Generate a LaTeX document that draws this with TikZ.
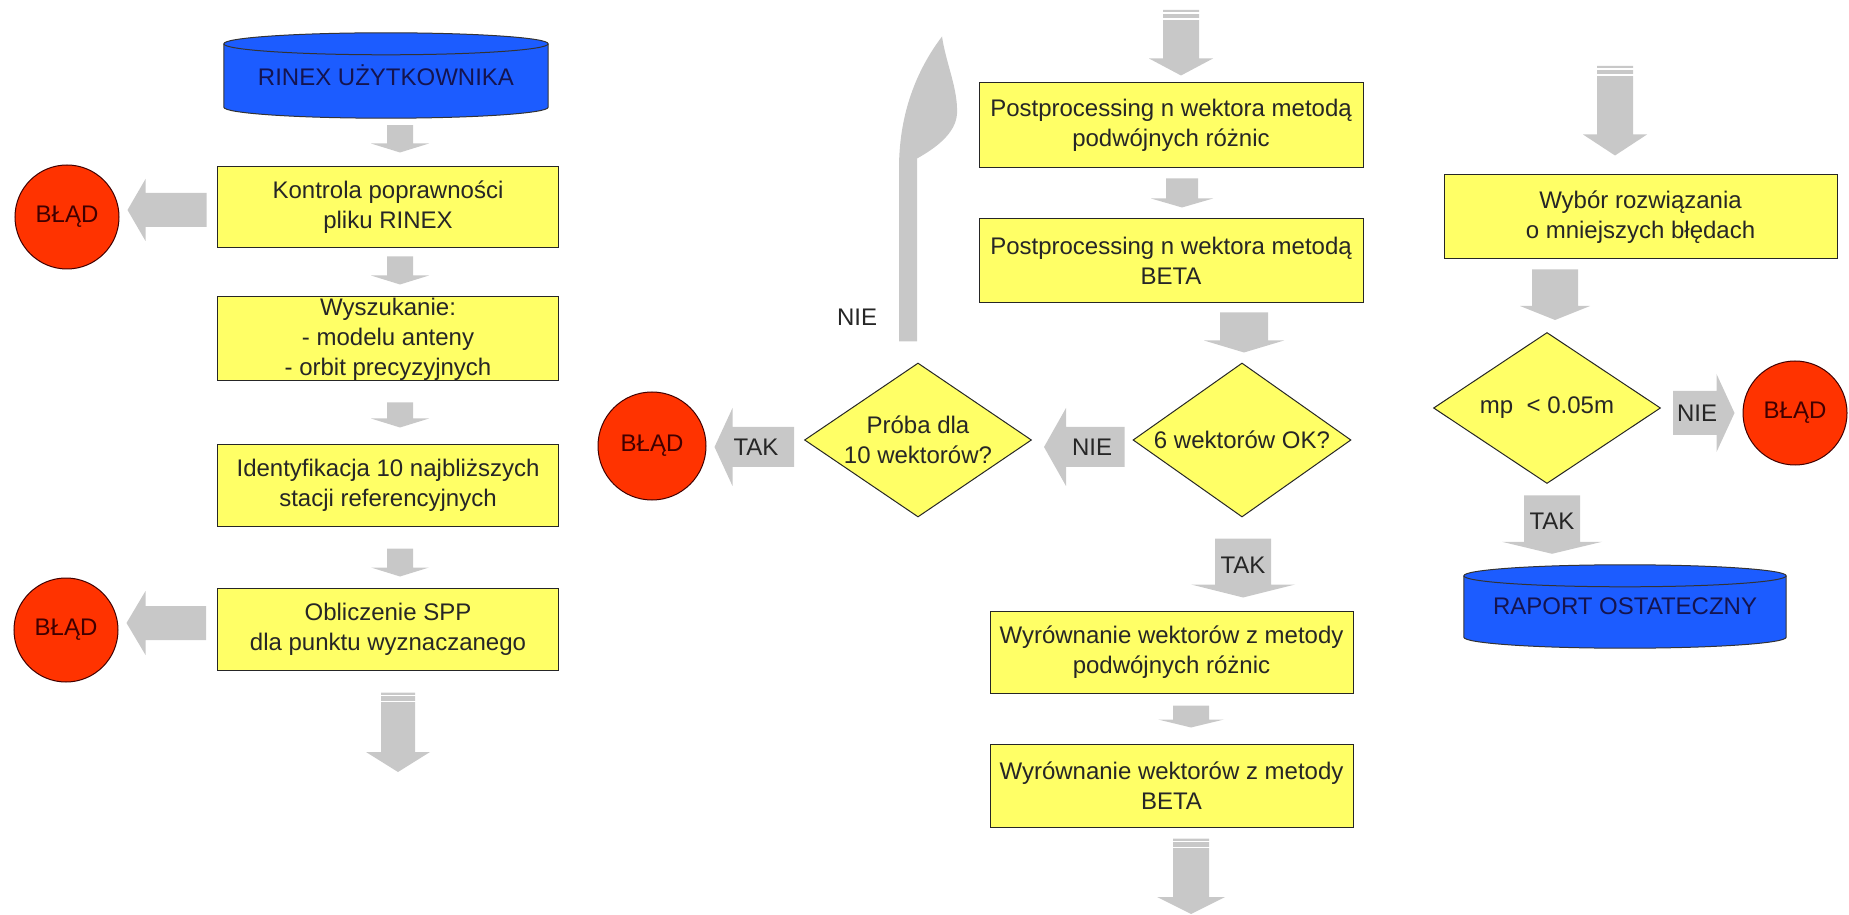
\documentclass[tikz,border=0pt]{standalone}
\usepackage{fontspec}
\setmainfont{Liberation Sans}
\usetikzlibrary{shapes.geometric, calc, backgrounds}

\definecolor{boxyellow}{RGB}{255,255,102}
\definecolor{dbblue}{RGB}{28,92,255}
\definecolor{errred}{RGB}{255,51,0}
\definecolor{arrowgray}{RGB}{200,200,200}
\definecolor{navytext}{RGB}{20,20,80}

\newcommand{\boxfont}{\fontsize{24}{30}\selectfont}

% gray block arrows: #1 tail, #2 tip, #3 shaft half width, #4 head half width, #5 head length
\newcommand{\arrdown}[5]{%
  \fill[garrow] let \p1=#1, \p2=#2 in
    (\x1-#3,\y1) -- (\x1+#3,\y1) -- (\x1+#3,\y2+#5) -- (\x1+#4,\y2+#5)
    -- (\x1,\y2) -- (\x1-#4,\y2+#5) -- (\x1-#3,\y2+#5) -- cycle;}
\newcommand{\arrleft}[5]{%
  \fill[garrow] let \p1=#1, \p2=#2 in
    (\x1,\y1-#3) -- (\x1,\y1+#3) -- (\x2+#5,\y1+#3) -- (\x2+#5,\y1+#4)
    -- (\x2,\y1) -- (\x2+#5,\y1-#4) -- (\x2+#5,\y1-#3) -- cycle;}
\newcommand{\arrright}[5]{%
  \fill[garrow] let \p1=#1, \p2=#2 in
    (\x1,\y1-#3) -- (\x1,\y1+#3) -- (\x2-#5,\y1+#3) -- (\x2-#5,\y1+#4)
    -- (\x2,\y1) -- (\x2-#5,\y1-#4) -- (\x2-#5,\y1-#3) -- cycle;}
% white stripes on top of the long arrows
\newcommand{\stripes}[2]{%
  \draw[white, line width=1.5pt] let \p1=#1 in
    (\x1-#2-1pt,\y1-3pt) -- (\x1+#2+1pt,\y1-3pt)
    (\x1-#2-1pt,\y1-9pt) -- (\x1+#2+1pt,\y1-9pt);}
% cylinder drawn round a text node
\newcommand{\dbshape}[1]{%
  \filldraw[dbbody] let \p1=(#1.north west), \p2=(#1.south east) in
    (\x1,\y1-11pt) -- (\x1,\y2+11pt)
    arc[start angle=180, end angle=360, x radius={(\x2-\x1)/2}, y radius=11pt]
    -- (\x2,\y1-11pt)
    arc[start angle=0, end angle=180, x radius={(\x2-\x1)/2}, y radius=11pt] -- cycle;
  \draw[dbbody, fill=none] let \p1=(#1.north west), \p2=(#1.south east) in
    (\x1,\y1-11pt) arc[start angle=180, end angle=360, x radius={(\x2-\x1)/2}, y radius=11pt];}

\tikzset{
  procbox/.style={rectangle, draw=black!85, line width=1pt, fill=boxyellow,
    inner sep=0pt, align=center, font=\boxfont, text=black!85},
  decision/.style={diamond, shape aspect=1.45, draw=black!85, line width=1pt, fill=boxyellow,
    inner sep=-6pt, align=center, font=\boxfont, text=black!85, minimum height=154pt},
  errnode/.style={circle, draw=black!75!red, line width=1pt, fill=errred,
    inner sep=0pt, minimum size=104pt, font=\boxfont, text=black!75!red},
  dbnode/.style={inner sep=0pt, font=\boxfont, text=navytext},
  dbbody/.style={fill=dbblue, draw=black!80, line width=1pt},
  garrow/.style={fill=arrowgray},
  arrtext/.style={font=\boxfont, text=black!85, inner sep=0pt},
}

\begin{document}
\begin{tikzpicture}[x=1pt, y=1pt]
  \useasboundingbox (0,0) rectangle (1849,914);

  % Kolumna 1
  \node[dbnode, minimum width=324pt, minimum height=85pt] (rinex) at (386,838.5) {RINEX UŻYTKOWNIKA};
  \node[procbox, minimum width=341pt, minimum height=81pt] (kon) at (388,706.5) {Kontrola poprawności\\pliku RINEX};
  \node[procbox, minimum width=341pt, minimum height=84pt] (wys) at (388,575) {Wyszukanie:\\- modelu anteny\\- orbit precyzyjnych};
  \node[procbox, minimum width=341pt, minimum height=81pt] (ide) at (388,428.5) {Identyfikacja 10 najbliższych\\stacji referencyjnych};
  \node[procbox, minimum width=341pt, minimum height=82pt] (obl) at (388,285) {Obliczenie SPP\\dla punktu wyznaczanego};
  \node[errnode] (err1) at (67,697) {BŁĄD};
  \node[errnode] (err2) at (66,284) {BŁĄD};
  \coordinate (endA) at (398,142);

  % Kolumna 2
  \coordinate (startB) at (1181,904);
  \node[procbox, minimum width=384pt, minimum height=85pt] (post1) at (1171,788.5) {Postprocessing n wektora metodą\\podwójnych różnic};
  \node[procbox, minimum width=384pt, minimum height=84pt] (post2) at (1171,653) {Postprocessing n wektora metodą\\BETA};
  \node[decision, minimum width=218pt] (ok6) at (1242,474) {6 wektorów OK?};
  \node[decision, minimum width=227pt] (proba) at (918,474) {Próba dla\\10 wektorów?};
  \node[errnode, minimum size=108pt] (err3) at (652,468) {BŁĄD};
  \node[procbox, minimum width=363pt, minimum height=82pt] (wyr1) at (1171.5,262) {Wyrównanie wektorów z metody\\podwójnych różnic};
  \node[procbox, minimum width=363pt, minimum height=83pt] (wyr2) at (1171.5,128.5) {Wyrównanie wektorów z metody\\BETA};
  \coordinate (endC) at (1191,0);
  \coordinate (loopA) at ($(proba.north)+(-10,21)$);

  % Kolumna 3
  \coordinate (startD) at (1615,848);
  \node[procbox, minimum width=393pt, minimum height=84pt] (wyb) at (1640.5,697) {Wybór rozwiązania\\o mniejszych błędach};
  \node[decision, minimum width=227pt, minimum height=151pt] (mp) at (1547,506) {mp~~< 0.05m};
  \node[errnode] (err4) at (1795,501) {BŁĄD};
  \node[dbnode, minimum width=322pt, minimum height=83pt] (raport) at (1625,307.5) {RAPORT OSTATECZNY};

  % Walce
  \begin{scope}[on background layer]
    \dbshape{rinex}
    \dbshape{raport}
  \end{scope}

  % Strzalki - kolumna 1
  \arrdown{($(rinex.south)+(14,-7)$)}{($(kon.north)+(0,14)$)}{13pt}{29pt}{9pt}
  \arrdown{($(kon.south)+(12,-8)$)}{($(wys.north)+(0,12)$)}{13pt}{29pt}{9pt}
  \arrdown{($(wys.south)+(12,-21)$)}{($(ide.north)+(0,17)$)}{13pt}{29pt}{9pt}
  \arrdown{($(ide.south)+(12,-22)$)}{($(obl.north)+(0,11)$)}{13pt}{29pt}{9pt}
  \arrdown{($(obl.south)+(10,-22)$)}{(endA)}{17pt}{32pt}{20pt}
  \stripes{($(obl.south)+(10,-22)$)}{17pt}
  \arrleft{($(kon.west)+(-10.5,-2.5)$)}{($(err1.east)+(8,0)$)}{17pt}{31pt}{18pt}
  \arrleft{($(obl.west)+(-11,6)$)}{($(err2.east)+(8,0)$)}{17pt}{32pt}{19pt}

  % Strzalki - kolumna 2
  \arrdown{(startB)}{($(post1.north)+(0,7)$)}{18pt}{32pt}{17pt}
  \stripes{(startB)}{18pt}
  \arrdown{($(post1.south)+(11,-10)$)}{($(post2.north)+(0,11)$)}{16pt}{31pt}{9pt}
  \arrdown{($(post2.south)+(73,-9)$)}{($(ok6.north)+(0,10)$)}{24pt}{40pt}{12pt}
  \arrleft{($(ok6.west)+(-8,-7)$)}{($(proba.east)+(12,0)$)}{20pt}{39pt}{22pt}
  \arrleft{($(proba.west)+(-10,-7)$)}{($(err3.east)+(8,0)$)}{20pt}{39pt}{18pt}
  \arrdown{($(ok6.south)+(1,-21)$)}{($(wyr1.north)+(0,13)$)}{28pt}{52pt}{13pt}
  \arrdown{($(wyr1.south)+(19.5,-12)$)}{($(wyr2.north)+(0,16)$)}{18pt}{33pt}{8pt}
  \arrdown{($(wyr2.south)+(19.5,-11)$)}{(endC)}{18pt}{34pt}{17pt}
  \stripes{($(wyr2.south)+(19.5,-11)$)}{18pt}
  % petla NIE
  \fill[garrow, shift={(loopA)}] (-9,0) -- (-9,173) .. controls (-9,233) and (12,276) .. (34,305)
    .. controls (38,278) and (50,253) .. (49,228) .. controls (48,208) and (27,193) .. (9,183)
    -- (9,0) -- cycle;

  % Strzalki - kolumna 3
  \arrdown{(startD)}{($(wyb.north)+(0,19)$)}{18pt}{32pt}{21pt}
  \stripes{(startD)}{18pt}
  \arrdown{($(wyb.south)+(-85.5,-10)$)}{($(mp.north)+(0,12)$)}{23pt}{35pt}{14pt}
  \arrright{($(mp.east)+(12,-5)$)}{($(err4.west)+(-8,0)$)}{22pt}{39pt}{18pt}
  \arrdown{($(mp.south)+(5,-11.5)$)}{($(raport.north)+(0,11)$)}{28pt}{50pt}{12pt}

  % Etykiety
  \node[arrtext] (nie1) at (1092,467) {NIE};
  \node[arrtext] (tak1) at (756,467) {TAK};
  \node[arrtext] (tak2) at (1243,349) {TAK};
  \node[arrtext] (nie2) at (1697,501) {NIE};
  \node[arrtext] (tak3) at (1552,393) {TAK};
  \node[arrtext] (nie3) at (857,597) {NIE};
\end{tikzpicture}
\end{document}
